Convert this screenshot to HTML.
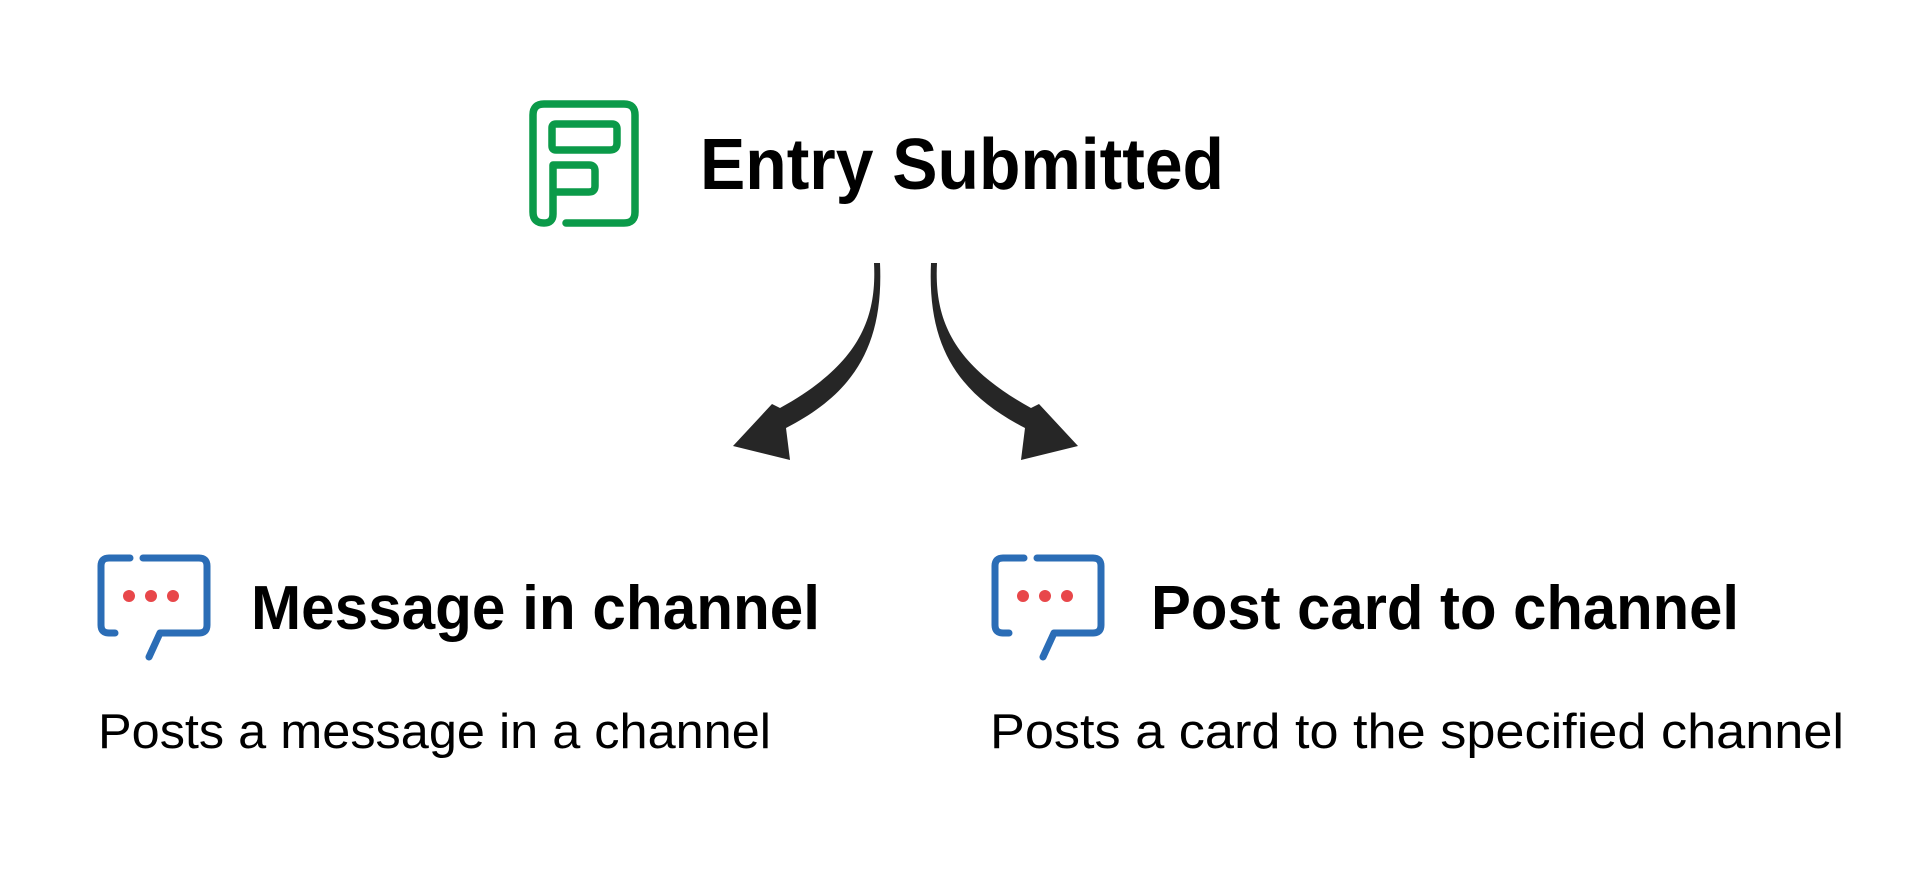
<!DOCTYPE html>
<html><head><meta charset="utf-8"><style>
html,body{margin:0;padding:0;background:#fff;width:1920px;height:891px;overflow:hidden}
svg{display:block}
text{font-family:"Liberation Sans",sans-serif;fill:#000}
</style></head><body>
<svg width="1920" height="891" viewBox="0 0 1920 891" xmlns="http://www.w3.org/2000/svg">
<g fill="none" stroke="#0b9a49" stroke-width="7.5" stroke-linecap="round" stroke-linejoin="round">
<path d="M566 223 H624 Q635 223 635 212 V115 Q635 104 624 104 H544 Q533 104 533 115 V212 Q533 223 544 223 Q553 223 553 214 V165 H589 Q595 165 595 171 V186 Q595 192 589 192 H556"/>
<path d="M556 124 H612 Q617 124 617 129 V143 Q617 150 610 150 H556 Q552 150 552 146 V128 Q552 124 556 124 Z"/>
</g>
<text x="700" y="189" font-size="72" font-weight="bold" textLength="524" lengthAdjust="spacingAndGlyphs">Entry Submitted</text>
<g fill="#262626">
<path d="M874 263 C877 320 858 365 780 408 L772 404 L733 446 L790 460 L786 428 C850 395 884 350 880 263 Z"/>
<path d="M937 263 C934 320 953 365 1031 408 L1039 404 L1078 446 L1021 460 L1025 428 C961 395 927 350 931 263 Z"/>
</g>
<g fill="none" stroke="#2b6db6" stroke-width="7" stroke-linecap="round" stroke-linejoin="round">
<path d="M130 558 H109 Q101 558 101 566 V625 Q101 633 109 633 H115"/>
<path d="M149 657 L160 633 H199 Q207 633 207 625 V566 Q207 558 199 558 H143"/>
</g>
<g fill="#e8474a"><circle cx="129" cy="596" r="6"/><circle cx="151" cy="596" r="6"/><circle cx="173" cy="596" r="6"/></g>
<g transform="translate(894,0)">
<g fill="none" stroke="#2b6db6" stroke-width="7" stroke-linecap="round" stroke-linejoin="round">
<path d="M130 558 H109 Q101 558 101 566 V625 Q101 633 109 633 H115"/>
<path d="M149 657 L160 633 H199 Q207 633 207 625 V566 Q207 558 199 558 H143"/>
</g>
<g fill="#e8474a"><circle cx="129" cy="596" r="6"/><circle cx="151" cy="596" r="6"/><circle cx="173" cy="596" r="6"/></g>
</g>
<text x="251" y="629" font-size="62" font-weight="bold" textLength="569" lengthAdjust="spacingAndGlyphs">Message in channel</text>
<text x="1151" y="629" font-size="62" font-weight="bold" textLength="588" lengthAdjust="spacingAndGlyphs">Post card to channel</text>
<text x="98" y="748" font-size="49" textLength="673" lengthAdjust="spacingAndGlyphs">Posts a message in a channel</text>
<text x="990" y="748" font-size="49" textLength="854" lengthAdjust="spacingAndGlyphs">Posts a card to the specified channel</text>
</svg>
</body></html>
